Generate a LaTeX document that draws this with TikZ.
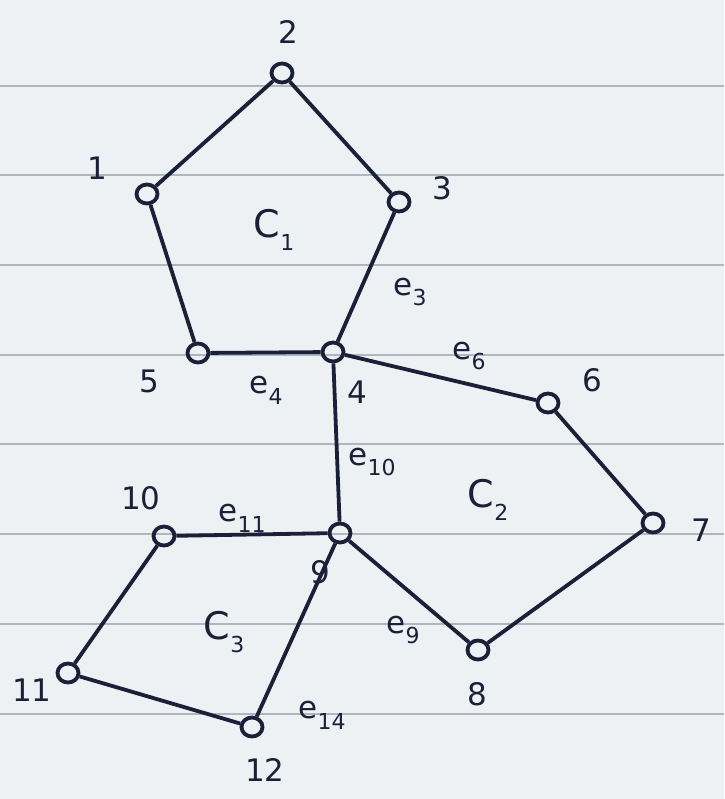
\documentclass[tikz,border=0pt]{standalone}
\usepackage{fontspec}
\setmainfont{DejaVu Sans}
\usetikzlibrary{shapes.geometric}
\definecolor{paper}{HTML}{EDF1F3}
\definecolor{rule}{HTML}{AEB7BF}
\definecolor{ink}{HTML}{1B2038}
\newcommand{\esub}[2]{#1\raisebox{-0.35em}{\fontsize{22}{22}\selectfont #2}}
\begin{document}
\begin{tikzpicture}[x=1pt,y=-1pt,
  vtx/.style={draw=ink,line width=3.8pt,ellipse,minimum width=21pt,minimum height=19pt,inner sep=0pt},
  edge/.style={draw=ink,line width=3.8pt},
  lbl/.style={text=ink,font=\fontsize{31}{31}\selectfont,inner sep=0pt},
  cyc/.style={text=ink,font=\fontsize{38}{38}\selectfont,inner sep=0pt}]
\fill[paper] (0,0) rectangle (724,799);
\useasboundingbox (0,0) rectangle (724,799);
\foreach \y in {86,175,265,355,444,534,624,714}
  \draw[rule,line width=2pt] (0,\y) -- (724,\y);
% vertices
\node[vtx] (v2) at (282,73) {};
\node[vtx] (v1) at (147,194) {};
\node[vtx] (v3) at (399,202) {};
\node[vtx] (v5) at (198,353) {};
\node[vtx] (v4) at (333,352) {};
\node[vtx] (v6) at (548,403) {};
\node[vtx] (v7) at (653,523) {};
\node[vtx] (v9) at (340,533) {};
\node[vtx] (v10) at (164,536) {};
\node[vtx] (v8) at (478,650) {};
\node[vtx] (v11) at (68,673) {};
\node[vtx] (v12) at (252,727) {};
% edges
\draw[edge] (v1) -- (v2);
\draw[edge] (v2) -- (v3);
\draw[edge] (v3) -- (v4);
\draw[edge] (v4) -- (v5);
\draw[edge] (v5) -- (v1);
\draw[edge] (v4) -- (v6);
\draw[edge] (v6) -- (v7);
\draw[edge] (v7) -- (v8);
\draw[edge] (v8) -- (v9);
\draw[edge] (v9) -- (v4);
\draw[edge] (v9) -- (v10);
\draw[edge] (v10) -- (v11);
\draw[edge] (v11) -- (v12);
\draw[edge] (v12) -- (v9);
% vertex labels
\node[lbl] (l2) at (288,32) {2};
\node[lbl] (l1) at (97,168) {1};
\node[lbl] (l3) at (442,188) {3};
\node[lbl] (l5) at (149,381) {5};
\node[lbl] (l4) at (357,392) {4};
\node[lbl] (l6) at (592,380) {6};
\node[lbl] (l7) at (701,530) {7};
\node[lbl] (l10) at (141,498) {10};
\node[lbl] (l9) at (320,572) {9};
\node[lbl] (l11) at (32,690) {11};
\node[lbl] (l8) at (477,694) {8};
\node[lbl] (l12) at (265,770) {12};
% edge labels
\node[lbl] (e3) at (410,292) {\esub{e}{3}};
\node[lbl] (e6) at (469,356) {\esub{e}{6}};
\node[lbl] (e4) at (266,390) {\esub{e}{4}};
\node[lbl] (e10) at (372,462) {\esub{e}{10}};
\node[lbl] (e11) at (242,518) {\esub{e}{11}};
\node[lbl] (e9) at (403,630) {\esub{e}{9}};
\node[lbl] (e14) at (322,715) {\esub{e}{14}};
% cycle labels
\node[cyc] (c1) at (274,230) {\esub{C}{1}};
\node[cyc] (c2) at (488,500) {\esub{C}{2}};
\node[cyc] (c3) at (224,632) {\esub{C}{3}};
\end{tikzpicture}
\end{document}
